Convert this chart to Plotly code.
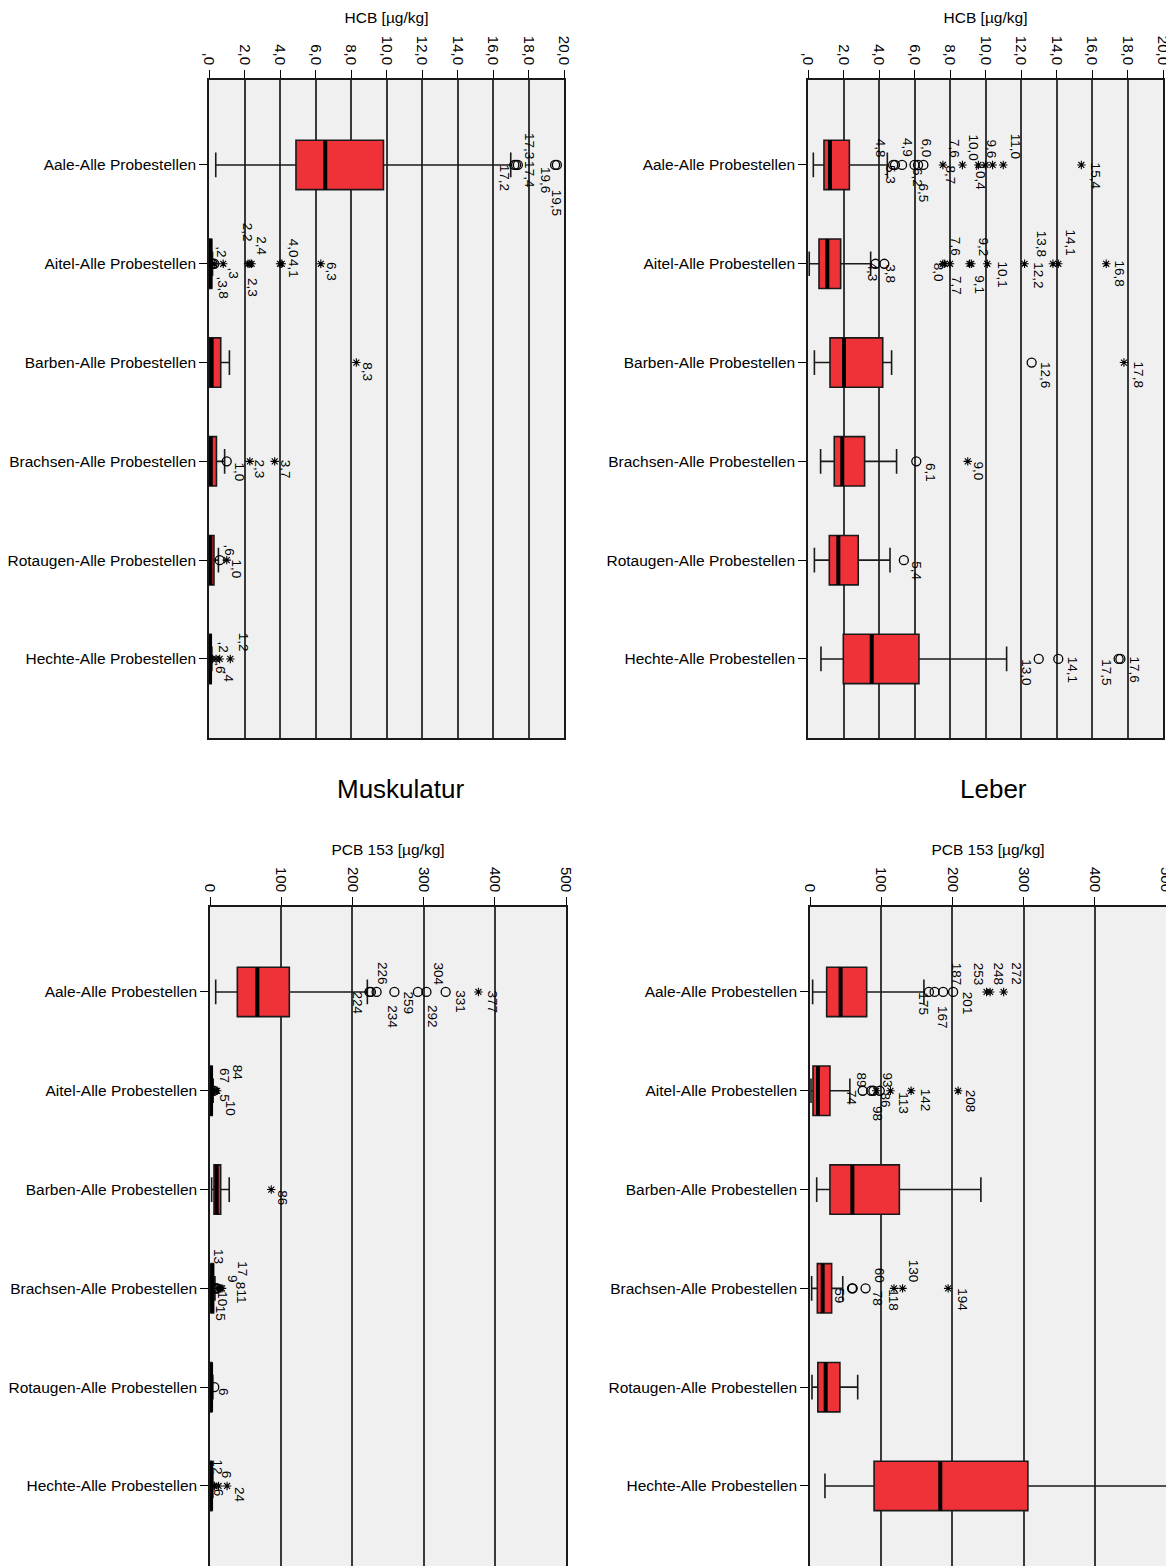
import plotly.graph_objects as go

# ---------------------------------------------------------------------------
# Data
# ---------------------------------------------------------------------------
CATEGORIES = [
    "Aale-Alle Probestellen",
    "Aitel-Alle Probestellen",
    "Barben-Alle Probestellen",
    "Brachsen-Alle Probestellen",
    "Rotaugen-Alle Probestellen",
    "Hechte-Alle Probestellen",
]

HCB_TICKS = [0, 2, 4, 6, 8, 10, 12, 14, 16, 18, 20]
HCB_TICK_TEXT = [",0", "2,0", "4,0", "6,0", "8,0", "10,0", "12,0", "14,0", "16,0", "18,0", "20,0"]
PCB_TICKS = [0, 100, 200, 300, 400, 500]
PCB_TICK_TEXT = ["0", "100", "200", "300", "400", "500"]

# HCB, Muskulatur (box statistics per fish species)
HCB_MUSK_LOW = [0.38, 0.0, 0.0, 0.0, 0.0, 0.0]
HCB_MUSK_Q1 = [4.9, 0.03, 0.02, 0.02, 0.02, 0.02]
HCB_MUSK_MED = [6.55, 0.08, 0.15, 0.10, 0.08, 0.06]
HCB_MUSK_Q3 = [9.83, 0.15, 0.66, 0.42, 0.28, 0.12]
HCB_MUSK_HIGH = [17.0, 0.20, 1.15, 0.88, 0.53, 0.16]
# (species index, value, marker kind, label)
HCB_MUSK_OUTLIERS = [
    (0, 17.2, "o", "17,2"), (0, 17.3, "o", "17,3"), (0, 17.4, "o", "17,4"),
    (0, 19.5, "o", "19,5"), (0, 19.6, "o", "19,6"),
    (1, 0.2, "o", ",2"), (1, 0.3, "o", ",3"), (1, 0.3, "*", ",3"), (1, 0.8, "*", ",8"),
    (1, 2.2, "*", "2,2"), (1, 2.3, "*", "2,3"), (1, 2.4, "*", "2,4"),
    (1, 4.0, "*", "4,0"), (1, 4.1, "*", "4,1"), (1, 6.3, "*", "6,3"),
    (2, 8.3, "*", "8,3"),
    (3, 1.0, "o", "1,0"), (3, 2.3, "*", "2,3"), (3, 3.7, "*", "3,7"),
    (4, 0.6, "o", ",6"), (4, 1.0, "*", "1,0"),
    (5, 0.2, "*", ",2"), (5, 0.4, "*", ",4"), (5, 0.6, "*", ",6"), (5, 1.2, "*", "1,2"),
]

# HCB, Leber
HCB_LEBER_LOW = [0.30, 0.07, 0.36, 0.71, 0.36, 0.73]
HCB_LEBER_Q1 = [0.90, 0.62, 1.24, 1.48, 1.20, 1.99]
HCB_LEBER_MED = [1.24, 1.09, 2.03, 1.93, 1.71, 3.59]
HCB_LEBER_Q3 = [2.33, 1.84, 4.21, 3.19, 2.83, 6.25]
HCB_LEBER_HIGH = [4.47, 3.53, 4.71, 4.99, 4.62, 11.19]
HCB_LEBER_OUTLIERS = [
    (0, 4.8, "o", "4,8"), (0, 4.9, "o", "4,9"), (0, 5.3, "o", "5,3"),
    (0, 6.0, "o", "6,0"), (0, 6.2, "o", "6,2"), (0, 6.5, "o", "6,5"),
    (0, 7.6, "*", "7,6"), (0, 8.7, "*", "8,7"), (0, 9.6, "*", "9,6"),
    (0, 10.0, "*", "10,0"), (0, 10.4, "*", "10,4"), (0, 11.0, "*", "11,0"),
    (0, 15.4, "*", "15,4"),
    (1, 3.8, "o", "3,8"), (1, 4.3, "o", "4,3"),
    (1, 7.6, "*", "7,6"), (1, 7.7, "*", "7,7"), (1, 8.0, "*", "8,0"),
    (1, 9.1, "*", "9,1"), (1, 9.2, "*", "9,2"), (1, 10.1, "*", "10,1"),
    (1, 12.2, "*", "12,2"), (1, 13.8, "*", "13,8"), (1, 14.1, "*", "14,1"),
    (1, 16.8, "*", "16,8"),
    (2, 12.6, "o", "12,6"), (2, 17.8, "*", "17,8"),
    (3, 6.1, "o", "6,1"), (3, 9.0, "*", "9,0"),
    (4, 5.4, "o", "5,4"),
    (5, 13.0, "o", "13,0"), (5, 14.1, "o", "14,1"), (5, 17.5, "o", "17,5"), (5, 17.6, "o", "17,6"),
]

# PCB 153, Muskulatur
PCB_MUSK_LOW = [8.0, 0.0, 2.3, 0.5, 0.3, 0.2]
PCB_MUSK_Q1 = [38.4, 0.5, 5.6, 1.5, 0.8, 0.8]
PCB_MUSK_MED = [66.5, 1.5, 9.4, 3.0, 1.5, 1.5]
PCB_MUSK_Q3 = [111.4, 3.0, 15.0, 5.0, 2.5, 2.5]
PCB_MUSK_HIGH = [221.0, 4.5, 27.0, 7.0, 4.0, 4.0]
PCB_MUSK_OUTLIERS = [
    (0, 224, "o", "224"), (0, 226, "o", "226"), (0, 234, "o", "234"), (0, 259, "o", "259"),
    (0, 292, "o", "292"), (0, 304, "o", "304"), (0, 331, "o", "331"), (0, 377, "*", "377"),
    (1, 5, "o", "5"), (1, 6.7, "*", "67"), (1, 8.4, "*", "84"), (1, 10, "*", "10"),
    (2, 86, "*", "86"),
    (3, 8, "o", "8"), (3, 9, "o", "9"), (3, 10, "o", "10"), (3, 11, "*", "11"),
    (3, 13, "*", "13"), (3, 15, "*", "15"), (3, 17, "*", "17"),
    (4, 6, "o", "6"),
    (5, 6, "*", "6"), (5, 6, "*", "6"), (5, 12, "*", "12"), (5, 24, "*", "24"),
]

# PCB 153, Leber
PCB_LEBER_LOW = [3.7, 1.4, 9.4, 2.3, 2.8, 21.0]
PCB_LEBER_Q1 = [23.4, 4.2, 28.0, 10.3, 11.0, 90.0]
PCB_LEBER_MED = [43.0, 11.2, 59.5, 17.8, 22.0, 183.0]
PCB_LEBER_Q3 = [79.6, 28.0, 125.5, 30.4, 42.0, 306.0]
PCB_LEBER_HIGH = [160.0, 56.0, 240.0, 46.0, 67.0, 560.0]
PCB_LEBER_OUTLIERS = [
    (0, 167, "o", "167"), (0, 175, "o", "175"), (0, 187, "o", "187"), (0, 201, "o", "201"),
    (0, 248, "*", "248"), (0, 253, "*", "253"), (0, 272, "*", "272"),
    (1, 74, "o", "74"), (1, 86, "o", "86"), (1, 89, "o", "89"), (1, 93, "*", "93"),
    (1, 98, "o", "98"), (1, 113, "*", "113"), (1, 142, "*", "142"), (1, 208, "*", "208"),
    (3, 59, "o", "59"), (3, 60, "o", "60"), (3, 78, "o", "78"),
    (3, 118, "*", "118"), (3, 130, "*", "130"), (3, 194, "*", "194"),
]

# ---------------------------------------------------------------------------
# Label placement: pixel nudges (dx right, dy down) of each outlier label
# ---------------------------------------------------------------------------
HCB_MUSK_NUDGE = [
    (-10, 13), (13, -19), (11, 10), (1, 38), (-12, 15),
    (9, -12), (19, 9), (8, 18), (0, 29),
    (-1, -32), (2, 24), (10, -18), (13, -16), (11, 5), (10, 8),
    (11, 9),
    (13, 11), (10, 8), (11, 8),
    (10, -10), (10, 9),
    (10, -12), (12, 18), (0, 9), (13, -17),
]
HCB_LEBER_NUDGE = [
    (-13, -17), (12, -17), (-12, 9), (12, -17), (-1, 12), (0, 28),
    (11, -16), (-12, 10), (13, -16), (-12, -18), (-13, 12), (12, -19), (14, 11),
    (15, 10), (-12, 8),
    (12, -17), (12, 22), (-12, 8), (10, 21), (12, -17), (15, 11),
    (14, 11), (-12, -20), (12, -21), (13, 10),
    (14, 12), (14, 12),
    (14, 11), (11, 10),
    (13, 11),
    (-13, 13), (14, 11), (-13, 13), (14, 11),
]
PCB_MUSK_NUDGE = [
    (-12, 11), (11, -18), (15, 25), (14, 11), (14, 25), (12, -18), (14, 10), (14, 10),
    (11, 7), (9, -15), (21, -18), (13, 17),
    (11, 8),
    (25, -3), (16, -9), (6, 10), (24, 8), (-1, -32), (0, 25), (21, -20),
    (10, 5),
    (12, -11), (4, 7), (-2, -19), (12, 9),
]
PCB_LEBER_NUDGE = [
    (13, 26), (-12, 12), (13, -18), (14, 11), (11, -18), (-12, -18), (12, -18),
    (-11, 7), (14, 9), (-12, -11), (11, -11), (-3, 23), (13, 13), (14, 9), (12, 10),
    (-12, 7), (27, -13), (12, 10), (0, 12), (11, -17), (14, 11),
]

# ---------------------------------------------------------------------------
# Styling
# ---------------------------------------------------------------------------
FONT = "Liberation Sans, Arial, sans-serif"
BOX_FILL = "#EE3238"
PLOT_BG = "#F0F0F0"
GRID = "#3a3a3a"
W, H = 1166, 1566

fig = go.Figure()
annotations = []


def add_panel(n, low, q1, med, q3, high, outliers, nudges,
              tickvals, ticktext, xmax, title, xdom, ydom, yrange):
    xa = "x" if n == 1 else f"x{n}"
    ya = "y" if n == 1 else f"y{n}"
    pos = list(range(len(CATEGORIES)))

    fig.add_trace(go.Box(
        y=pos, q1=q1, median=med, q3=q3, lowerfence=low, upperfence=high,
        orientation="h", width=0.5, whiskerwidth=0.5, boxpoints=False,
        fillcolor=BOX_FILL, line=dict(color="#1a1a1a", width=1.6),
        xaxis=xa, yaxis=ya, hoverinfo="skip", showlegend=False,
    ))

    # thick median bars
    mx, my = [], []
    for i, m in enumerate(med):
        mx += [m, m, None]
        my += [i - 0.25, i + 0.25, None]
    fig.add_trace(go.Scatter(
        x=mx, y=my, mode="lines", line=dict(color="black", width=4),
        xaxis=xa, yaxis=ya, hoverinfo="skip", showlegend=False,
    ))

    # outliers (circles) and extremes (stars)
    for kind, symbol, size, lw in (("o", "circle-open", 9, 1.3), ("*", "asterisk-open", 7, 1.1)):
        pts = [(v, c) for c, v, k, _ in outliers if k == kind]
        if pts:
            fig.add_trace(go.Scatter(
                x=[p[0] for p in pts], y=[p[1] for p in pts], mode="markers",
                marker=dict(symbol=symbol, size=size, color="black",
                            line=dict(color="black", width=lw)),
                xaxis=xa, yaxis=ya, hoverinfo="skip", showlegend=False,
            ))

    for (c, v, _, text), (dx, dy) in zip(outliers, nudges):
        annotations.append(dict(
            x=v, y=c, xref=xa, yref=ya, text=text, showarrow=False,
            textangle=90, xanchor="center", yanchor="middle",
            xshift=dx, yshift=-dy,
            font=dict(family=FONT, size=13.5, color="black"),
        ))

    fig.layout[("xaxis" if n == 1 else f"xaxis{n}")] = dict(
        domain=xdom, anchor=ya, side="top", range=[0, xmax], automargin=False,
        tickvals=tickvals, ticktext=ticktext, tickangle=90,
        ticklabeloverflow="allow",
        ticks="outside", ticklen=8, tickcolor="black", tickwidth=1.3,
        tickfont=dict(family=FONT, size=15, color="black"),
        showline=True, linecolor="#1a1a1a", linewidth=1.5, mirror=True,
        showgrid=True, gridcolor=GRID, gridwidth=1.5, zeroline=False,
        title=dict(text=title, standoff=8,
                   font=dict(family=FONT, size=15.5, color="black")),
        fixedrange=True,
    )
    fig.layout[("yaxis" if n == 1 else f"yaxis{n}")] = dict(
        domain=ydom, anchor=xa, range=yrange, automargin=False,
        tickvals=pos, ticktext=CATEGORIES,
        ticks="outside", ticklen=8, tickcolor="black", tickwidth=1.3,
        tickfont=dict(family=FONT, size=15.5, color="black"),
        showline=True, linecolor="#1a1a1a", linewidth=1.5, mirror=True,
        showgrid=False, zeroline=False, fixedrange=True,
    )


top_dom = [1 - 738 / H, 1 - 80 / H]
bot_dom = [0.0, 1 - 907 / H]

add_panel(1, HCB_MUSK_LOW, HCB_MUSK_Q1, HCB_MUSK_MED, HCB_MUSK_Q3, HCB_MUSK_HIGH,
          HCB_MUSK_OUTLIERS, HCB_MUSK_NUDGE, HCB_TICKS, HCB_TICK_TEXT, 20,
          "HCB [µg/kg]", [209 / W, 564 / W], top_dom, [5.8, -0.86])
add_panel(2, HCB_LEBER_LOW, HCB_LEBER_Q1, HCB_LEBER_MED, HCB_LEBER_Q3, HCB_LEBER_HIGH,
          HCB_LEBER_OUTLIERS, HCB_LEBER_NUDGE, HCB_TICKS, HCB_TICK_TEXT, 20,
          "HCB [µg/kg]", [808 / W, 1163 / W], top_dom, [5.8, -0.86])
add_panel(3, PCB_MUSK_LOW, PCB_MUSK_Q1, PCB_MUSK_MED, PCB_MUSK_Q3, PCB_MUSK_HIGH,
          PCB_MUSK_OUTLIERS, PCB_MUSK_NUDGE, PCB_TICKS, PCB_TICK_TEXT, 500,
          "PCB 153 [µg/kg]", [210 / W, 566 / W], bot_dom, [5.81, -0.86])
add_panel(4, PCB_LEBER_LOW, PCB_LEBER_Q1, PCB_LEBER_MED, PCB_LEBER_Q3, PCB_LEBER_HIGH,
          PCB_LEBER_OUTLIERS, PCB_LEBER_NUDGE, PCB_TICKS, PCB_TICK_TEXT, 500,
          "PCB 153 [µg/kg]", [810 / W, 1.0], bot_dom, [5.81, -0.86])

# tissue captions between the rows
for text, xc in (("Muskulatur", 400), ("Leber", 993)):
    annotations.append(dict(
        x=xc / W, y=1 - 789 / H, xref="paper", yref="paper", text=text,
        showarrow=False, xanchor="center", yanchor="middle",
        font=dict(family=FONT, size=26, color="black"),
    ))

fig.update_layout(
    width=W, height=H, margin=dict(l=0, r=0, t=0, b=0, autoexpand=False),
    paper_bgcolor="white", plot_bgcolor=PLOT_BG,
    annotations=annotations, showlegend=False,
)

fig.write_html("out.html")
